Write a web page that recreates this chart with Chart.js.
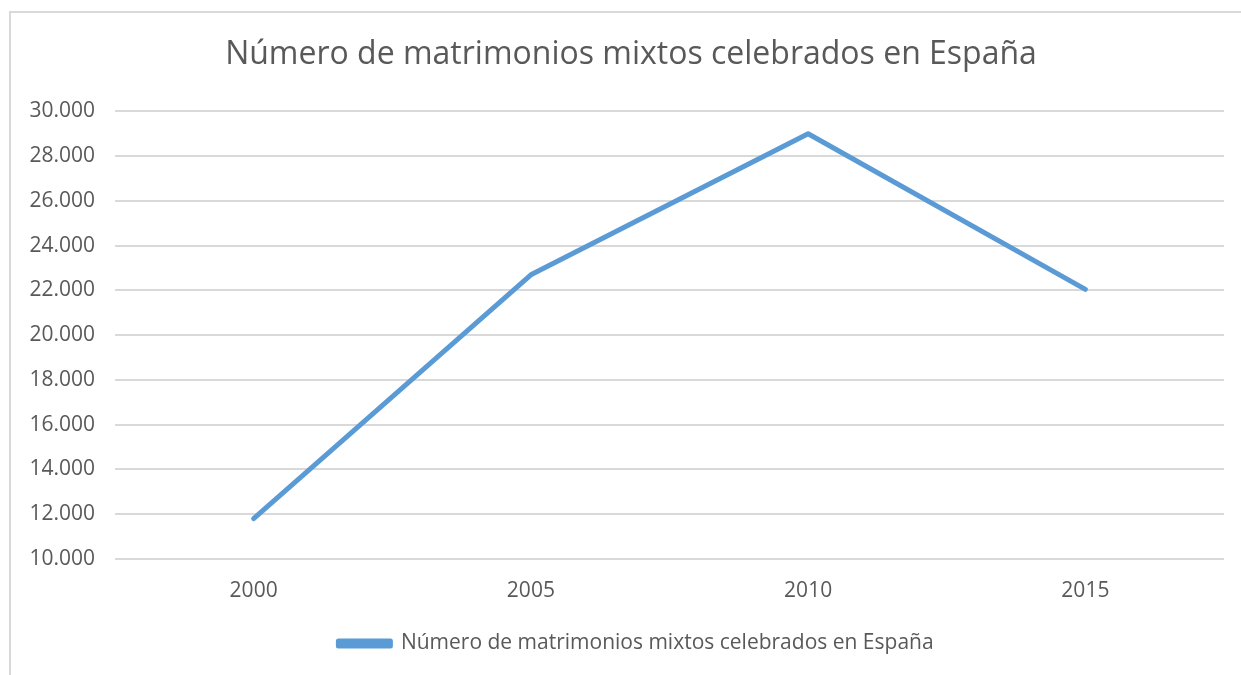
<!DOCTYPE html>
<html>
<head>
<meta charset="utf-8">
<script src="https://cdn.jsdelivr.net/npm/chart.js@4"></script>
<style>
  html, body { margin: 0; padding: 0; background: #fff; overflow: hidden; }
  #frame {
    position: absolute; left: 9px; top: 11px; width: 1400px; height: 800px;
    border-left: 2px solid #d9d9d9; border-top: 2px solid #d9d9d9;
  }
  #wrap { position: absolute; left: 0; top: 0; width: 1241px; height: 675px; }
</style>
</head>
<body>
<div id="frame"></div>
<div id="wrap"><canvas id="chart"></canvas></div>
<script>
const years = ["2000", "2005", "2010", "2015"];
const matrimonios = [11800, 22700, 29000, 22050];
const seriesName = "Número de matrimonios mixtos celebrados en España";
const titleText = "Número de matrimonios mixtos celebrados en España";

const textColor = "#595959";
const lineColor = "#5b9bd5";
const gridColor = "#d9d9d9";
const fontFamily = "'Open Sans', 'Liberation Sans', sans-serif";

// 30000 -> "30.000"
const fmt = (v) => String(v).replace(/\B(?=(\d{3})+(?!\d))/g, ".");

// title and legend sit a bit right of the canvas centre in the original
const nudgeBoxes = {
  id: "nudgeBoxes",
  afterLayout(chart) {
    chart.titleBlock.left += 19;
    chart.titleBlock.right += 19;
    chart.legend.left += 24;
    chart.legend.right += 24;
  },
};

new Chart(document.getElementById("chart"), {
  type: "line",
  data: {
    labels: years,
    datasets: [{
      label: seriesName,
      data: matrimonios,
      borderColor: lineColor,
      backgroundColor: lineColor,
      borderWidth: 5,
      borderCapStyle: "round",
      borderJoinStyle: "round",
      pointRadius: 0,
      tension: 0,
    }],
  },
  options: {
    responsive: true,
    maintainAspectRatio: false,
    animation: false,
    layout: { padding: { left: 0, right: 17, top: 0, bottom: 11 } },
    plugins: {
      title: {
        display: true,
        text: titleText,
        color: textColor,
        font: { family: fontFamily, size: 32, weight: "normal" },
        padding: { top: 36, bottom: 37 },
      },
      legend: {
        position: "bottom",
        labels: {
          color: textColor,
          font: { family: fontFamily, size: 21 },
          boxWidth: 52,
          boxHeight: 5,
          padding: 10,
        },
      },
      tooltip: { enabled: false },
    },
    scales: {
      x: {
        offset: true,
        grid: { display: false },
        border: { display: false },
        ticks: { color: textColor, font: { family: fontFamily, size: 21 }, padding: 11 },
        afterFit: (scale) => { scale.height = 64; },
      },
      y: {
        min: 10000,
        max: 30000,
        grid: { color: gridColor, lineWidth: 2, drawTicks: false },
        border: { display: false },
        ticks: {
          stepSize: 2000,
          color: textColor,
          font: { family: fontFamily, size: 21 },
          padding: 20,
          callback: (v) => fmt(v),
        },
        afterFit: (scale) => { scale.width = 115; },
      },
    },
  },
  plugins: [nudgeBoxes],
});
</script>
</body>
</html>
